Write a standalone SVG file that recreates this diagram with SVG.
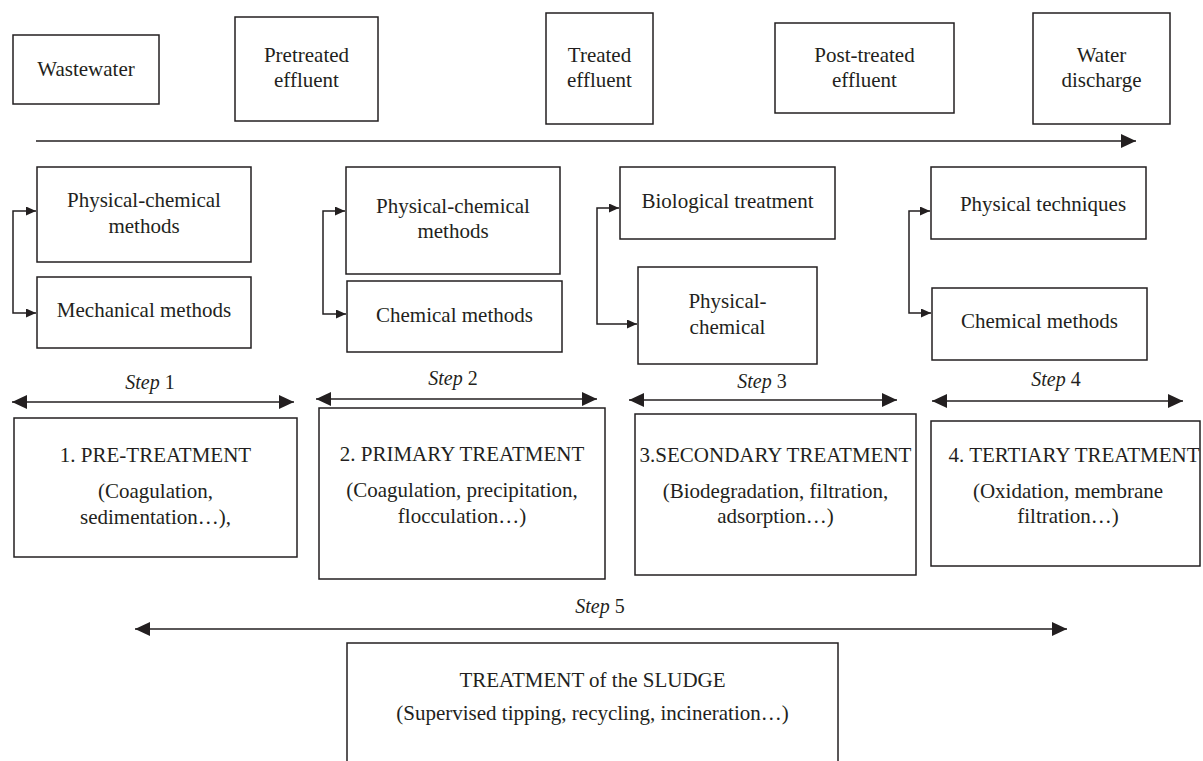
<svg xmlns="http://www.w3.org/2000/svg" width="1203" height="761" viewBox="0 0 1203 761">
<style>
.box{fill:#fff;stroke:#231f20;stroke-width:1.5}
.t{font-family:"Liberation Serif","Times New Roman",serif;font-size:21px;fill:#231f20;text-anchor:middle}
.s{font-family:"Liberation Serif","Times New Roman",serif;font-size:20px;fill:#231f20;text-anchor:middle}
.ln{fill:none;stroke:#231f20;stroke-width:1.5}
</style>
<defs>
<marker id="sm" markerUnits="userSpaceOnUse" markerWidth="10" markerHeight="9" refX="10" refY="4.5" orient="auto-start-reverse"><path d="M0,0 L10,4.5 L0,9 z" fill="#231f20"/></marker>
<marker id="bg" markerUnits="userSpaceOnUse" markerWidth="15" markerHeight="14" refX="15" refY="7" orient="auto-start-reverse"><path d="M0,0 L15,7 L0,14 z" fill="#231f20"/></marker>
</defs>
<rect width="1203" height="761" fill="#fff"/>

<g id="connectors">
<path class="ln" d="M36,141 H1136" marker-end="url(#bg)"/>
<path class="ln" d="M36,211 H13 V313 H36" marker-start="url(#sm)" marker-end="url(#sm)"/>
<path class="ln" d="M345,211 H323 V314 H346" marker-start="url(#sm)" marker-end="url(#sm)"/>
<path class="ln" d="M619,208 H597 V324 H637" marker-start="url(#sm)" marker-end="url(#sm)"/>
<path class="ln" d="M930,211 H909 V313 H931" marker-start="url(#sm)" marker-end="url(#sm)"/>
<path class="ln" d="M12,402 H294" marker-start="url(#bg)" marker-end="url(#bg)"/>
<path class="ln" d="M316,399 H597" marker-start="url(#bg)" marker-end="url(#bg)"/>
<path class="ln" d="M629,400 H897" marker-start="url(#bg)" marker-end="url(#bg)"/>
<path class="ln" d="M932,401 H1183" marker-start="url(#bg)" marker-end="url(#bg)"/>
<path class="ln" d="M135,629 H1067" marker-start="url(#bg)" marker-end="url(#bg)"/>
</g>

<g id="wastewater"><rect class="box" x="13" y="35" width="146" height="69"/><text class="t" x="86" y="76">Wastewater</text></g>
<g id="pretreated"><rect class="box" x="235" y="17" width="143" height="104"/><text class="t" x="306.5" y="62">Pretreated</text><text class="t" x="306.5" y="87">effluent</text></g>
<g id="treated"><rect class="box" x="546" y="13" width="107" height="111"/><text class="t" x="599.5" y="62">Treated</text><text class="t" x="599.5" y="87">effluent</text></g>
<g id="posttreated"><rect class="box" x="775" y="23" width="179" height="90"/><text class="t" x="864.5" y="62">Post-treated</text><text class="t" x="864.5" y="87">effluent</text></g>
<g id="discharge"><rect class="box" x="1033" y="13" width="137" height="111"/><text class="t" x="1101.5" y="62">Water</text><text class="t" x="1101.5" y="87">discharge</text></g>

<g id="s1a"><rect class="box" x="37" y="167" width="214" height="95"/><text class="t" x="144" y="207">Physical-chemical</text><text class="t" x="144" y="233">methods</text></g>
<g id="s1b"><rect class="box" x="37" y="277" width="214" height="71"/><text class="t" x="144" y="317">Mechanical methods</text></g>
<g id="s2a"><rect class="box" x="346" y="167" width="214" height="107"/><text class="t" x="453" y="213">Physical-chemical</text><text class="t" x="453" y="238">methods</text></g>
<g id="s2b"><rect class="box" x="347" y="281" width="215" height="71"/><text class="t" x="454.5" y="322">Chemical methods</text></g>
<g id="s3a"><rect class="box" x="620" y="167" width="215" height="72"/><text class="t" x="727.5" y="208">Biological treatment</text></g>
<g id="s3b"><rect class="box" x="638" y="267" width="179" height="97"/><text class="t" x="727.5" y="308">Physical-</text><text class="t" x="727.5" y="334">chemical</text></g>
<g id="s4a"><rect class="box" x="931" y="167" width="215" height="72"/><text class="t" x="1043" y="211">Physical techniques</text></g>
<g id="s4b"><rect class="box" x="932" y="288" width="215" height="72"/><text class="t" x="1039.5" y="328">Chemical methods</text></g>

<g id="step1-label"><text class="s" x="150" y="389"><tspan font-style="italic">Step</tspan> 1</text></g>
<g id="step2-label"><text class="s" x="453" y="385"><tspan font-style="italic">Step</tspan> 2</text></g>
<g id="step3-label"><text class="s" x="762" y="388"><tspan font-style="italic">Step</tspan> 3</text></g>
<g id="step4-label"><text class="s" x="1056" y="386"><tspan font-style="italic">Step</tspan> 4</text></g>
<g id="step5-label"><text class="s" x="600" y="613"><tspan font-style="italic">Step</tspan> 5</text></g>

<g id="pretreatment"><rect class="box" x="14" y="418" width="283" height="139"/><text class="t" x="155.5" y="462">1. PRE-TREATMENT</text><text class="t" x="155.5" y="498">(Coagulation,</text><text class="t" x="155.5" y="524">sedimentation…),</text></g>
<g id="primary"><rect class="box" x="319" y="408" width="286" height="171"/><text class="t" x="462" y="461">2. PRIMARY TREATMENT</text><text class="t" x="462" y="497">(Coagulation, precipitation,</text><text class="t" x="462" y="523">flocculation…)</text></g>
<g id="secondary"><rect class="box" x="635" y="414" width="281" height="161"/><text class="t" x="775.5" y="462">3.SECONDARY TREATMENT</text><text class="t" x="775.5" y="498">(Biodegradation, filtration,</text><text class="t" x="775.5" y="523">adsorption…)</text></g>
<g id="tertiary"><rect class="box" x="931" y="421" width="269" height="145"/><text class="t" x="1074" y="462">4. TERTIARY TREATMENT</text><text class="t" x="1068" y="498">(Oxidation, membrane</text><text class="t" x="1068" y="523">filtration…)</text></g>
<g id="sludge"><rect class="box" x="347" y="643" width="491" height="130"/><text class="t" x="592.5" y="687">TREATMENT of the SLUDGE</text><text class="t" x="592.5" y="720">(Supervised tipping, recycling, incineration…)</text></g>
</svg>
